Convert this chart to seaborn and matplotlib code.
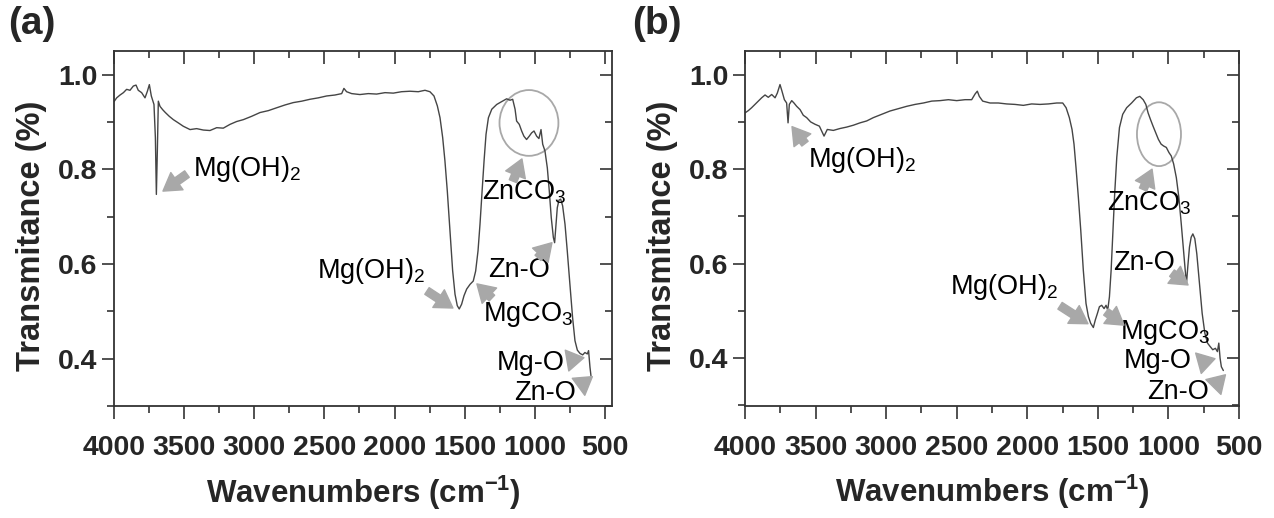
import numpy as np
import pandas as pd
import matplotlib
matplotlib.use("Agg")
import matplotlib.pyplot as plt
import seaborn as sns
from matplotlib.patches import Ellipse
from matplotlib.ticker import MultipleLocator, FixedLocator

# ---------------- data ----------------
wn_a = [4000, 3981, 3957, 3933, 3910, 3886, 3862, 3843, 3827, 3803, 3779, 3762, 3748, 3734,
        3715, 3705, 3698, 3691, 3684, 3672, 3653, 3634, 3606, 3577, 3541, 3506, 3458, 3411,
        3363, 3316, 3268, 3221, 3173, 3126, 3078, 3019, 2959, 2900, 2841, 2781, 2722, 2662,
        2603, 2544, 2484, 2425, 2377, 2361, 2342, 2306, 2247, 2187, 2128, 2068, 2009, 1950,
        1890, 1831, 1783, 1748, 1719, 1695, 1676, 1657, 1641, 1624, 1605, 1586, 1569, 1553,
        1539, 1522, 1505, 1486, 1462, 1439, 1422, 1405, 1391, 1376, 1362, 1348, 1331, 1307,
        1272, 1237, 1201, 1177, 1158, 1141, 1130, 1111, 1094, 1078, 1059, 1040, 1023, 1006,
        987, 971, 956, 944, 928, 911, 897, 883, 868, 859, 849, 840, 828, 816, 802, 785, 769,
        750, 731, 714, 697, 678, 659, 643, 626, 617, 607, 600]
t_a = [0.943, 0.951, 0.957, 0.962, 0.969, 0.967, 0.976, 0.978, 0.967, 0.962, 0.951, 0.965,
       0.979, 0.955, 0.937, 0.867, 0.747, 0.839, 0.944, 0.933, 0.926, 0.920, 0.912, 0.905,
       0.898, 0.891, 0.884, 0.886, 0.883, 0.882, 0.888, 0.887, 0.895, 0.901, 0.905, 0.912,
       0.920, 0.924, 0.930, 0.936, 0.941, 0.944, 0.948, 0.951, 0.955, 0.957, 0.960, 0.971,
       0.964, 0.960, 0.958, 0.960, 0.959, 0.962, 0.961, 0.964, 0.965, 0.964, 0.967, 0.964,
       0.955, 0.934, 0.909, 0.867, 0.818, 0.754, 0.670, 0.586, 0.536, 0.512, 0.505, 0.515,
       0.533, 0.547, 0.557, 0.564, 0.585, 0.628, 0.684, 0.754, 0.818, 0.874, 0.909, 0.927,
       0.937, 0.943, 0.949, 0.946, 0.948, 0.927, 0.902, 0.895, 0.881, 0.870, 0.863, 0.870,
       0.877, 0.881, 0.870, 0.865, 0.884, 0.853, 0.839, 0.803, 0.754, 0.698, 0.656, 0.645,
       0.684, 0.719, 0.735, 0.737, 0.723, 0.684, 0.628, 0.557, 0.487, 0.438, 0.418, 0.411,
       0.408, 0.413, 0.410, 0.417, 0.382, 0.364]

wn_b = [4000, 3976, 3953, 3929, 3906, 3882, 3858, 3835, 3811, 3787, 3771, 3752, 3738, 3721,
        3705, 3695, 3686, 3669, 3653, 3634, 3610, 3587, 3563, 3535, 3504, 3473, 3457, 3440,
        3417, 3374, 3327, 3280, 3232, 3185, 3138, 3091, 3032, 2973, 2913, 2854, 2795, 2736,
        2677, 2618, 2559, 2500, 2441, 2394, 2370, 2354, 2340, 2316, 2264, 2205, 2146, 2087,
        2028, 1969, 1910, 1851, 1791, 1749, 1725, 1702, 1683, 1669, 1655, 1638, 1621, 1603,
        1584, 1567, 1551, 1532, 1518, 1503, 1489, 1473, 1456, 1442, 1430, 1418, 1406, 1395,
        1381, 1366, 1347, 1324, 1296, 1261, 1227, 1203, 1179, 1160, 1144, 1127, 1109, 1090,
        1071, 1052, 1034, 1015, 996, 980, 963, 944, 926, 909, 893, 881, 872, 863, 851, 839,
        827, 813, 799, 780, 761, 742, 723, 705, 686, 667, 653, 643, 634, 625, 611]
t_b = [0.919, 0.924, 0.930, 0.937, 0.944, 0.951, 0.957, 0.952, 0.958, 0.951, 0.961, 0.979,
       0.965, 0.947, 0.940, 0.898, 0.937, 0.945, 0.940, 0.933, 0.926, 0.914, 0.909, 0.900,
       0.895, 0.891, 0.881, 0.870, 0.884, 0.882, 0.886, 0.889, 0.893, 0.898, 0.902, 0.909,
       0.916, 0.923, 0.928, 0.933, 0.937, 0.940, 0.944, 0.945, 0.947, 0.945, 0.947, 0.947,
       0.959, 0.965, 0.954, 0.944, 0.940, 0.940, 0.938, 0.937, 0.935, 0.938, 0.937, 0.938,
       0.940, 0.940, 0.930, 0.909, 0.884, 0.853, 0.804, 0.740, 0.670, 0.586, 0.516, 0.488,
       0.474, 0.465, 0.481, 0.495, 0.509, 0.512, 0.505, 0.512, 0.502, 0.530, 0.586, 0.656,
       0.747, 0.825, 0.888, 0.916, 0.930, 0.940, 0.951, 0.954, 0.947, 0.937, 0.919, 0.905,
       0.891, 0.877, 0.863, 0.853, 0.849, 0.846, 0.835, 0.828, 0.811, 0.782, 0.740, 0.684,
       0.628, 0.586, 0.558, 0.593, 0.635, 0.656, 0.663, 0.653, 0.621, 0.558, 0.495, 0.453,
       0.432, 0.425, 0.418, 0.421, 0.414, 0.432, 0.400, 0.382, 0.374]

x_ticks = [4000, 3500, 3000, 2500, 2000, 1500, 1000, 500]
y_ticks = [0.4, 0.6, 0.8, 1.0]
panel_labels = ["(a)", "(b)"]
xlabel = r"Wavenumbers (cm$^{\mathbf{-1}}$)"
ylabel = "Transmitance (%)"

# ---------------- style ----------------
sns.set_style("ticks")
plt.rcParams["font.family"] = ["Liberation Sans", "DejaVu Sans"]
plt.rcParams["mathtext.fontset"] = "custom"
plt.rcParams["mathtext.rm"] = "Liberation Sans"
plt.rcParams["mathtext.it"] = "Liberation Sans:italic"
plt.rcParams["mathtext.bf"] = "Liberation Sans:bold"
plt.rcParams["mathtext.default"] = "regular"

LINE = "#454545"
SPINE = "#333333"
ARROW = "#a8a8a8"

fig = plt.figure(figsize=(12.74, 5.18), dpi=100)
ax_a = fig.add_axes([114 / 1274, 1 - 406 / 518, 498 / 1274, 355 / 518])
ax_b = fig.add_axes([745 / 1274, 1 - 405.5 / 518, 494 / 1274, 354.5 / 518])

df_a = pd.DataFrame({"wn": wn_a, "T": t_a})
df_b = pd.DataFrame({"wn": wn_b, "T": t_b})

for ax, df, xr in [(ax_a, df_a, 450), (ax_b, df_b, 500)]:
    sns.lineplot(data=df, x="wn", y="T", ax=ax, color=LINE, lw=1.0,
                 estimator=None, sort=False)
    ax.set_xlim(4000, xr)
    ax.set_ylim(0.30, 1.05)
    ax.xaxis.set_major_locator(FixedLocator(x_ticks))
    ax.xaxis.set_minor_locator(MultipleLocator(250))
    ax.yaxis.set_major_locator(FixedLocator(y_ticks))
    ax.yaxis.set_minor_locator(MultipleLocator(0.1))
    ax.set_xticklabels([str(v) for v in x_ticks])
    ax.set_yticklabels([f"{v:.1f}" for v in y_ticks])
    for s in ax.spines.values():
        s.set_visible(True)
        s.set_color(SPINE)
        s.set_linewidth(1.3)
    ax.tick_params(axis="both", which="major", direction="out", length=9, width=1.2,
                   color=SPINE, labelsize=20.5)
    ax.tick_params(axis="both", which="minor", direction="out", length=5, width=1.2,
                   color=SPINE)
    ax.tick_params(axis="x", which="major", pad=12)
    ax.tick_params(axis="y", which="major", pad=3)
    for lab in ax.get_xticklabels() + ax.get_yticklabels():
        lab.set_fontweight("bold")
    ax.set_xlabel(xlabel, fontsize=22.5, fontweight="bold")
    ax.set_ylabel(ylabel, fontsize=23.5, fontweight="bold")
    ax.xaxis.set_label_coords(0.5, -0.19)
    ax.yaxis.set_label_coords(-0.135, 0.48)
    # mirrored inward ticks on top/right
    top = ax.secondary_xaxis("top")
    top.xaxis.set_major_locator(FixedLocator(x_ticks))
    top.xaxis.set_minor_locator(MultipleLocator(250))
    top.tick_params(which="major", direction="in", length=9, width=1.2, color=SPINE,
                    labeltop=False)
    top.tick_params(which="minor", direction="in", length=5, width=1.2, color=SPINE)
    top.spines["top"].set_visible(False)
    right = ax.secondary_yaxis("right")
    right.yaxis.set_major_locator(FixedLocator(y_ticks))
    right.yaxis.set_minor_locator(MultipleLocator(0.1))
    right.tick_params(which="major", direction="in", length=9, width=1.2, color=SPINE,
                      labelright=False)
    right.tick_params(which="minor", direction="in", length=5, width=1.2, color=SPINE)
    right.spines["right"].set_visible(False)

ARROWPROPS = dict(arrowstyle="simple,head_length=0.65,head_width=0.8,tail_width=0.3",
                  color=ARROW, shrinkA=0, shrinkB=0, mutation_scale=19)


def note(ax, text, tx, ty, tail, head):
    ax.text(tx, ty, text, fontsize=19.5, ha="left", va="center", color="black")
    ax.annotate("", xy=head, xytext=tail, arrowprops=ARROWPROPS)


# panel (a) annotations
note(ax_a, "Mg(OH)$_2$", 3437, 0.800, (3480, 0.790), (3651, 0.754))
note(ax_a, "Mg(OH)$_2$", 2553, 0.585, (1769, 0.543), (1584, 0.507))
note(ax_a, "MgCO$_3$", 1370, 0.494, (1306, 0.528), (1413, 0.558))
note(ax_a, "ZnCO$_3$", 1377, 0.752, (1156, 0.775), (1092, 0.822))
note(ax_a, "Zn-O", 1334, 0.588, (978, 0.613), (878, 0.645))
note(ax_a, "Mg-O", 1275, 0.391, (770, 0.396), (650, 0.402))
note(ax_a, "Zn-O", 1150, 0.328, (668, 0.345), (590, 0.362))
ax_a.add_patch(Ellipse((1042, 0.898), 420, 0.139, fill=False, edgecolor="#a8a8a8", lw=1.3))

# panel (b) annotations
note(ax_b, "Mg(OH)$_2$", 3554, 0.820, (3575, 0.854), (3667, 0.890))
note(ax_b, "Mg(OH)$_2$", 2548, 0.550, (1768, 0.511), (1570, 0.473))
note(ax_b, "MgCO$_3$", 1343, 0.455, (1442, 0.498), (1315, 0.470))
note(ax_b, "ZnCO$_3$", 1435, 0.728, (1180, 0.757), (1116, 0.800))
note(ax_b, "Zn-O", 1393, 0.601, (975, 0.580), (861, 0.555))
note(ax_b, "Mg-O", 1315, 0.395, (780, 0.390), (670, 0.399))
note(ax_b, "Zn-O", 1150, 0.329, (672, 0.342), (596, 0.365))
ax_b.add_patch(Ellipse((1067, 0.874), 312, 0.135, fill=False, edgecolor="#a8a8a8", lw=1.3))

fig.text(8 / 1274, 1 - 6 / 518, panel_labels[0], fontsize=28, fontweight="bold",
         ha="left", va="top")
fig.text(632 / 1274, 1 - 6 / 518, panel_labels[1], fontsize=28, fontweight="bold",
         ha="left", va="top")

fig.savefig("out.png", dpi=100)
